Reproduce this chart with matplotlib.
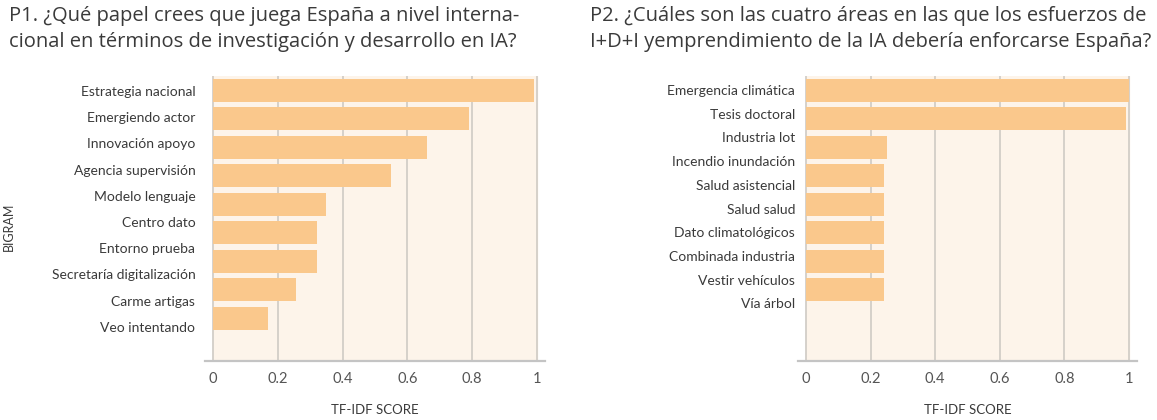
import matplotlib
matplotlib.use("Agg")
import matplotlib.pyplot as plt

plt.rcParams['font.family'] = ['Lato', 'DejaVu Sans']

# P1 data
p1_labels = ["Estrategia nacional", "Emergiendo actor", "Innovación apoyo",
             "Agencia supervisión", "Modelo lenguaje", "Centro dato",
             "Entorno prueba", "Secretaría digitalización", "Carme artigas",
             "Veo intentando"]
p1_scores = [0.99, 0.79, 0.66, 0.55, 0.35, 0.32, 0.32, 0.255, 0.17]

# P2 data
p2_labels = ["Emergencia climática", "Tesis doctoral", "Industria lot",
             "Incendio inundación", "Salud asistencial", "Salud salud",
             "Dato climatológicos", "Combinada industria", "Vestir vehículos",
             "Vía árbol"]
p2_scores = [1.0, 0.99, 0.25, 0.24, 0.24, 0.24, 0.24, 0.24]

xticks = [0, 0.2, 0.4, 0.6, 0.8, 1]
xtick_labels = ["0", "0.2", "0.4", "0.6", "0.8", "1"]

title1 = "P1. ¿Qué papel crees que juega España a nivel interna-\ncional en términos de investigación y desarrollo en IA?"
title2 = "P2. ¿Cuáles son las cuatro áreas en las que los esfuerzos de\nI+D+I yemprendimiento de la IA debería enforcarse España?"

bar_color = "#fac88c"
bg_color = "#fdf4ea"
grid_color = "#cfcac4"
text_color = "#3a3a3a"

fig = plt.figure(figsize=(11.57, 4.2), dpi=100)


def panel(rect, labels, scores, label_lim, pad):
    ax = fig.add_axes(rect)
    ax.axvspan(0, 1, color=bg_color, zorder=0)
    for x in xticks:
        ax.axvline(x, color=grid_color, lw=1.2, zorder=1)
    ax.barh(range(len(scores)), scores, height=0.81, color=bar_color, zorder=2)
    ax.set_xlim(-0.025, 1.025)
    ax.set_ylim(9.5, -0.5)
    ax.set_xticks(xticks)
    ax.set_xticklabels(xtick_labels, fontsize=10.5, color="#555555")
    ax.tick_params(axis="x", length=0, pad=8)
    ax.set_yticks([])
    for s in ["top", "right", "left"]:
        ax.spines[s].set_visible(False)
    ax.spines["bottom"].set_color("#c4c4c4")
    ax.spines["bottom"].set_linewidth(1.6)
    ax.set_xlabel("TF-IDF SCORE", fontsize=9.5, color=text_color, labelpad=13)

    # category labels on their own scale
    lab = ax.twinx()
    lab.set_ylim(*label_lim)
    lab.set_yticks(range(len(labels)))
    lab.set_yticklabels(labels, fontsize=10, color=text_color)
    lab.yaxis.set_ticks_position("left")
    lab.tick_params(axis="y", length=0, pad=pad)
    for s in lab.spines.values():
        s.set_visible(False)
    return ax, lab


ax1, lab1 = panel([0.1772, 0.1405, 0.2939, 0.678], p1_labels, p1_scores, (10.3, -0.56), 7)
ax2, lab2 = panel([0.6897, 0.1405, 0.293, 0.678], p2_labels, p2_scores, (11.43, -0.58), 2)

lab1.set_ylabel("BIGRAM", fontsize=9, color=text_color)
lab1.yaxis.set_label_position("left")
lab1.yaxis.set_label_coords(-0.56, 0.47)

title_font = ['Open Sans', 'DejaVu Sans']
fig.text(0.008, 0.985, title1, fontsize=14.5, family=title_font, color=text_color,
         va="top", ha="left", linespacing=1.4)
fig.text(0.510, 0.985, title2, fontsize=14.5, family=title_font, color=text_color,
         va="top", ha="left", linespacing=1.4)

fig.savefig("out.png", dpi=100, facecolor="white")
